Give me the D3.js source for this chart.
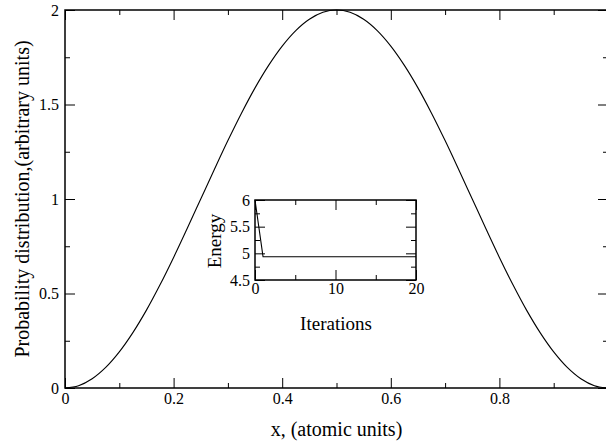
<!DOCTYPE html>
<html><head><meta charset="utf-8">
<script src="https://cdn.jsdelivr.net/npm/d3@7"></script>
<style>
html,body{margin:0;padding:0;background:#fff;}
</style></head>
<body><svg id="c" width="606" height="444"></svg>
<script>
// Main curve: probability distribution vs x
const xVals = [0,0.025,0.05,0.075,0.1,0.125,0.15,0.175,0.2,0.225,0.25,0.275,0.3,0.325,0.35,0.375,0.4,0.425,0.45,0.475,0.5,
  0.525,0.55,0.575,0.6,0.625,0.65,0.675,0.7,0.725,0.75,0.775,0.8,0.825,0.85,0.875,0.9,0.925,0.95,0.975,1.0];
const probVals = [0,0.012,0.049,0.109,0.191,0.293,0.412,0.546,0.691,0.844,1.0,1.156,1.309,1.454,1.588,1.707,1.809,1.891,1.951,1.988,2.0,
  1.988,1.951,1.891,1.809,1.707,1.588,1.454,1.309,1.156,1.0,0.844,0.691,0.546,0.412,0.293,0.191,0.109,0.049,0.012,0];
const xTickLabels = [0,0.2,0.4,0.6,0.8];
const yTickLabels = [0,0.5,1,1.5,2];
// Inset: energy vs iterations
const iterations = [0,1,2,3,4,5,6,7,8,9,10,11,12,13,14,15,16,17,18,19,20];
const energyVals = [6.0,4.935,4.935,4.935,4.935,4.935,4.935,4.935,4.935,4.935,4.935,4.935,4.935,4.935,4.935,4.935,4.935,4.935,4.935,4.935,4.935];
const insetXTicks = [0,10,20];
const insetYTicks = [4.5,5,5.5,6];

const FONT = "Liberation Serif";
const svg = d3.select("#c");

function framedAxes(g, x, y, opt){
  const [x0,x1] = x.range(), [y0,y1] = y.range();
  const mk = (axisFn, scale, vals, len, labels) => {
    const a = axisFn(scale).tickValues(vals).tickSizeInner(-len).tickSizeOuter(0);
    a.tickFormat(labels ? (d=>String(d)) : "");
    return a;
  };
  const gb = g.append("g").attr("transform",`translate(0,${y0})`);
  gb.call(mk(d3.axisBottom,x,opt.xMinor,5,false));
  gb.append("g").call(mk(d3.axisBottom,x,opt.xMajor,10,true).tickPadding(opt.xPad));
  const gt = g.append("g").attr("transform",`translate(0,${y1})`);
  gt.call(mk(d3.axisTop,x,opt.xMinor,5,false));
  gt.append("g").call(mk(d3.axisTop,x,opt.xMajor,10,false));
  const gl = g.append("g").attr("transform",`translate(${x0},0)`);
  gl.call(mk(d3.axisLeft,y,opt.yMinor,5,false));
  gl.append("g").call(mk(d3.axisLeft,y,opt.yMajor,10,true).tickPadding(opt.yPad));
  const gr = g.append("g").attr("transform",`translate(${x1},0)`);
  gr.call(mk(d3.axisRight,y,opt.yMinor,5,false));
  gr.append("g").call(mk(d3.axisRight,y,opt.yMajor,10,false));
  g.selectAll(".domain").remove();
  g.selectAll("g").attr("font-family",FONT).attr("font-size",opt.fs);
  g.selectAll(".tick line").attr("stroke","#000").attr("stroke-width",1);
  g.selectAll(".tick text").attr("fill","#000")
    .style("font-family",FONT).style("font-size",opt.fs+"px");
  g.append("rect").attr("x",x0).attr("y",y1).attr("width",x1-x0).attr("height",y0-y1)
    .attr("fill","none").attr("stroke","#000").attr("stroke-width",1.5);
}

// Main plot
const x = d3.scaleLinear().domain([0,1]).range([65,608]);
const y = d3.scaleLinear().domain([0,2]).range([388,10]);
const main = svg.append("g");
main.append("path").datum(xVals.map((v,i)=>[v,probVals[i]]))
  .attr("fill","none").attr("stroke","#000").attr("stroke-width",1.1)
  .attr("d", d3.line().x(d=>x(d[0])).y(d=>y(d[1])).curve(d3.curveCatmullRom));
framedAxes(main, x, y, {
  xMajor: xTickLabels, xMinor: [0.1,0.3,0.5,0.7,0.9],
  yMajor: yTickLabels, yMinor: [0.25,0.75,1.25,1.75],
  xPad: 5, yPad: 6, fs: 16
});
svg.append("text").attr("x",(65+608)/2).attr("y",436).attr("text-anchor","middle")
  .style("font-family",FONT).style("font-size","20px").text("x, (atomic units)");
svg.append("text").attr("transform",`translate(29,199) rotate(-90)`).attr("text-anchor","middle")
  .style("font-family",FONT).style("font-size","20px").text("Probability distribution,(arbitrary units)");

// Inset
const xi = d3.scaleLinear().domain([0,20]).range([255,416]);
const yi = d3.scaleLinear().domain([4.5,6]).range([280,200]);
const inset = svg.append("g");
inset.append("rect").attr("x",255).attr("y",200).attr("width",161).attr("height",80).attr("fill","#fff");
inset.append("path").datum(iterations.map((v,i)=>[v,energyVals[i]]))
  .attr("fill","none").attr("stroke","#000").attr("stroke-width",1.1)
  .attr("d", d3.line().x(d=>xi(d[0])).y(d=>yi(d[1])));
framedAxes(inset, xi, yi, {
  xMajor: insetXTicks, xMinor: [5,15],
  yMajor: insetYTicks, yMinor: [4.75,5.25,5.75],
  xPad: 3, yPad: 5, fs: 16
});
svg.append("text").attr("x",336).attr("y",330).attr("text-anchor","middle")
  .style("font-family",FONT).style("font-size","19px").text("Iterations");
svg.append("text").attr("transform",`translate(221,241) rotate(-90)`).attr("text-anchor","middle")
  .style("font-family",FONT).style("font-size","19px").text("Energy");
</script></body></html>
